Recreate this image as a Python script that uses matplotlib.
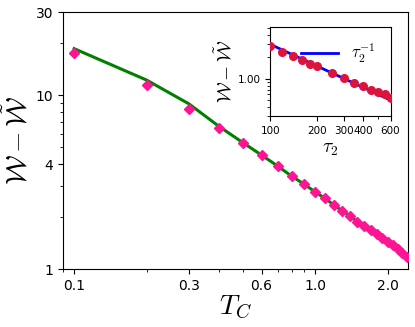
import matplotlib
matplotlib.use("Agg")
import matplotlib.pyplot as plt
from matplotlib.ticker import FixedLocator, FixedFormatter, NullFormatter, LogLocator

plt.rcParams['mathtext.fontset'] = 'cm'

# Main panel data
tc = [0.1, 0.2, 0.3, 0.4, 0.5, 0.6, 0.7, 0.8, 0.9, 1.0, 1.1, 1.2, 1.3, 1.4,
      1.5, 1.6, 1.7, 1.8, 1.9, 2.0, 2.1, 2.2, 2.3, 2.4]
w_points = [17.4, 11.4, 8.3, 6.46, 5.30, 4.52, 3.91, 3.42, 3.08, 2.78, 2.55,
            2.33, 2.16, 2.02, 1.87, 1.77, 1.68, 1.60, 1.51, 1.44, 1.37, 1.30,
            1.24, 1.18]
w_line = [18.5, 12.2, 8.9, 6.6, 5.35, 4.52, 3.91, 3.42, 3.08, 2.78, 2.55,
          2.33, 2.16, 2.02, 1.87, 1.77, 1.68, 1.60, 1.51, 1.44, 1.37, 1.30,
          1.24, 1.18]
main_xticks = [0.1, 0.3, 0.6, 1.0, 2.0]
main_xticklabels = ["0.1", "0.3", "0.6", "1.0", "2.0"]
main_yticks = [1, 4, 10, 30]
main_yticklabels = ["1", "4", "10", "30"]

# Inset data
tau2 = [100, 120, 140, 160, 180, 200, 250, 300, 350, 400, 450, 500, 550, 600]
w_inset = [2.85, 2.35, 2.07, 1.80, 1.62, 1.49, 1.21, 1.02, 0.88, 0.79, 0.70,
           0.65, 0.60, 0.54]
fit_coef = 300.0
inset_xticks = [100, 200, 300, 400, 600]
inset_xticklabels = ["100", "200", "300", "400", "600"]
inset_yticks = [1.0]
inset_yticklabels = ["1.00"]

fig = plt.figure(figsize=(4.15, 3.27), dpi=100)
ax = fig.add_axes([0.152, 0.177, 0.831, 0.786])
ax.plot(tc, w_line, color='green', lw=2.2, zorder=2)
ax.plot(tc, w_points, ls='none', marker='D', ms=4.6, color='deeppink', zorder=3)
ax.set_xscale('log')
ax.set_yscale('log')
ax.set_xlim(0.09, 2.43)
ax.set_ylim(1, 30)
ax.xaxis.set_major_locator(FixedLocator(main_xticks))
ax.xaxis.set_major_formatter(FixedFormatter(main_xticklabels))
ax.xaxis.set_minor_formatter(NullFormatter())
ax.yaxis.set_major_locator(FixedLocator(main_yticks))
ax.yaxis.set_major_formatter(FixedFormatter(main_yticklabels))
ax.yaxis.set_minor_formatter(NullFormatter())
ax.tick_params(labelsize=10)
ax.set_xlabel(r'$T_C$', fontsize=20, labelpad=0)
ax.set_ylabel(r'$\mathcal{W}-\tilde{\mathcal{W}}$', fontsize=20, labelpad=2)

ins = fig.add_axes([0.651, 0.645, 0.290, 0.272])
tt = [tau2[0], tau2[-1]]
ins.plot(tt, [fit_coef / t for t in tt], color='blue', lw=2, label=r'$\tau_2^{-1}$', zorder=2)
ins.plot(tau2, w_inset, ls='none', marker='o', ms=5.5, color='crimson', zorder=3)
ins.set_xscale('log')
ins.set_yscale('log')
ins.set_xlim(100, 600)
ins.set_ylim(0.3, 5.2)
ins.xaxis.set_major_locator(FixedLocator(inset_xticks))
ins.xaxis.set_major_formatter(FixedFormatter(inset_xticklabels))
ins.xaxis.set_minor_formatter(NullFormatter())
ins.yaxis.set_major_locator(FixedLocator(inset_yticks))
ins.yaxis.set_major_formatter(FixedFormatter(inset_yticklabels))
ins.yaxis.set_minor_locator(LogLocator(base=10, subs=range(2, 10)))
ins.yaxis.set_minor_formatter(NullFormatter())
ins.tick_params(labelsize=7.5)
ins.set_xlabel(r'$\tau_2$', fontsize=14, labelpad=2)
ins.set_ylabel(r'$\mathcal{W}-\tilde{\mathcal{W}}$', fontsize=14, labelpad=0)
ins.legend(loc='upper right', frameon=False, fontsize=12, handlelength=2.2)

fig.savefig('out.png', dpi=100)
